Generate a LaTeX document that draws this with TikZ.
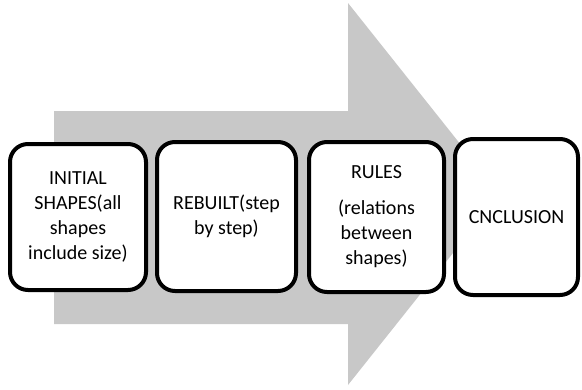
\documentclass[tikz,border=0pt]{standalone}
\usepackage{fontspec}
\setmainfont{Carlito}
\definecolor{arrowgrey}{RGB}{200,200,200}
\begin{document}
\begin{tikzpicture}[x=1pt,y=-1pt,
  stepbox/.style={draw=black, line width=4pt, fill=white, rounded corners=18pt,
    align=center, inner sep=0pt, font=\fontsize{20}{25}\selectfont}]
\useasboundingbox (0,0) rectangle (582,389);
\fill[arrowgrey] (54,111) -- (348,111) -- (348,3) -- (500,194) -- (348,385)
  -- (348,324) -- (54,324) -- cycle;
\node[stepbox, minimum width=136pt, minimum height=146pt] (b1) at (78,217)
  {INITIAL\\SHAPES(all\\shapes\\include size)};
\node[stepbox, minimum width=139pt, minimum height=149pt] (b2) at (226.5,216.5)
  {REBUILT(step\\by step)};
\node[stepbox, minimum width=135pt, minimum height=150pt] (b3) at (376.5,217)
  {RULES\\[11pt](relations\\between\\shapes)};
\node[stepbox, minimum width=123pt, minimum height=156pt] (b4) at (516.5,217)
  {CNCLUSION};
\end{tikzpicture}
\end{document}
